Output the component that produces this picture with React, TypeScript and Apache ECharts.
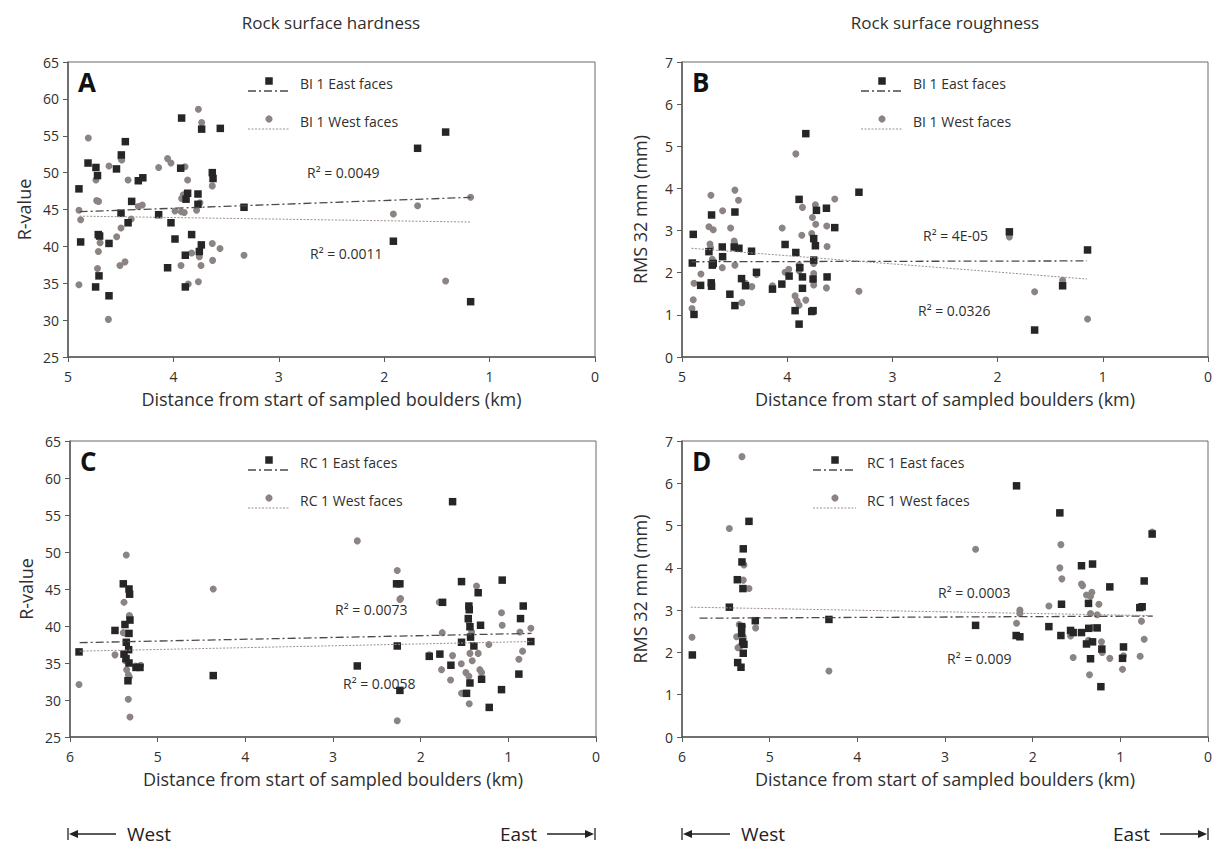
import React, { useEffect, useRef } from "react";
import * as echarts from "echarts";

const FONT = "'Open Sans', 'Noto Sans', sans-serif";

// ---------- text ----------
const columnTitles = ["Rock surface hardness", "Rock surface roughness"];
const xAxisName = "Distance from start of sampled boulders (km)";
const yAxisNames = ["R-value", "RMS 32 mm (mm)", "R-value", "RMS 32 mm (mm)"];
const panelLetters = ["A", "B", "C", "D"];
const legendLabels = [
  ["BI 1 East faces", "BI 1 West faces"],
  ["BI 1 East faces", "BI 1 West faces"],
  ["RC 1 East faces", "RC 1 West faces"],
  ["RC 1 East faces", "RC 1 West faces"],
];
const r2Labels = [
  ["R² = 0.0049", "R² = 0.0011"],
  ["R² = 4E-05", "R² = 0.0326"],
  ["R² = 0.0073", "R² = 0.0058"],
  ["R² = 0.0003", "R² = 0.009"],
];

// ---------- axis ranges ----------
const xMaxKm = [5, 5, 6, 6];
const yMin = [25, 0, 25, 0];
const yMax = [65, 7, 65, 7];
const yStep = [5, 1, 5, 1];

// ---------- data: [km, value] ----------
const aEast = [
  [4.896, 47.8], [4.81, 51.3], [4.735, 50.7], [4.72, 49.6], [4.456, 54.2], [4.494, 52.4],
  [4.54, 50.5], [4.333, 48.9], [4.29, 49.3], [4.396, 46.1], [4.497, 44.5], [4.43, 43.2],
  [4.88, 40.6], [4.713, 41.6], [4.70, 41.4], [4.611, 40.4], [4.706, 36.0], [4.738, 34.5],
  [4.611, 33.3], [3.922, 57.4], [3.732, 55.9], [3.555, 56.0], [3.931, 50.6], [3.631, 50.0],
  [3.624, 49.2], [3.865, 47.2], [3.88, 46.4], [3.767, 47.1], [3.767, 45.7], [3.33, 45.3],
  [4.14, 44.3], [4.023, 43.2], [3.827, 41.6], [3.985, 41.0], [3.735, 40.2], [3.754, 39.3],
  [3.887, 38.8], [4.055, 37.1], [3.887, 34.5], [1.417, 55.5], [1.683, 53.3], [1.913, 40.7],
  [1.18, 32.5],
];
const aWest = [
  [4.807, 54.7], [4.896, 44.9], [4.88, 43.6], [4.896, 34.8], [4.735, 49.0], [4.728, 46.2],
  [4.71, 46.1], [4.696, 40.5], [4.712, 39.3], [4.72, 37.0], [4.617, 30.1], [4.611, 50.9],
  [4.497, 51.9], [4.49, 51.7], [4.43, 49.0], [4.333, 45.4], [4.295, 45.6], [4.40, 43.7],
  [4.497, 42.5], [4.538, 41.3], [4.507, 37.4], [4.459, 37.9], [4.14, 50.7], [4.055, 51.9],
  [4.023, 51.3], [3.763, 58.6], [3.732, 56.8], [3.89, 50.8], [3.865, 49.0], [3.922, 46.5],
  [3.906, 47.0], [3.985, 44.8], [3.925, 44.7], [3.897, 44.6], [3.78, 44.9], [3.748, 45.9],
  [3.631, 48.2], [3.631, 40.4], [3.558, 39.7], [3.827, 39.1], [3.754, 38.6], [3.628, 38.1],
  [3.928, 37.4], [3.738, 37.4], [3.859, 34.9], [3.763, 35.2], [3.33, 38.8], [1.18, 46.65],
  [1.683, 45.5], [1.913, 44.4], [1.417, 35.3],
];
const bEast = [
  [4.893, 2.91], [4.902, 2.23], [4.886, 1.01], [4.823, 1.70], [4.719, 3.37], [4.744, 2.50],
  [4.712, 2.18], [4.703, 2.22], [4.722, 1.76], [4.719, 1.68], [4.617, 2.61], [4.614, 2.38],
  [4.497, 3.44], [4.504, 2.61], [4.459, 2.58], [4.545, 1.49], [4.497, 1.22], [4.434, 1.86],
  [4.396, 1.69], [4.339, 2.51], [4.292, 2.01], [4.14, 1.61], [4.051, 1.73], [4.02, 2.67],
  [3.982, 1.92], [3.823, 5.30], [3.887, 3.74], [3.918, 2.48], [3.88, 2.12], [3.855, 1.90],
  [3.855, 1.63], [3.925, 1.10], [3.887, 0.78], [3.767, 1.08], [3.754, 1.10], [3.722, 3.48],
  [3.748, 2.81], [3.732, 2.64], [3.748, 2.30], [3.754, 1.85], [3.627, 3.53], [3.548, 3.07],
  [3.621, 1.90], [3.318, 3.91], [1.888, 2.97], [1.145, 2.54], [1.382, 1.69], [1.648, 0.64],
];
const bWest = [
  [4.905, 1.15], [4.893, 1.36], [4.886, 1.75], [4.82, 1.97], [4.744, 3.09], [4.703, 3.02],
  [4.725, 3.84], [4.734, 2.68], [4.728, 2.59], [4.712, 2.32], [4.617, 2.12], [4.614, 3.47],
  [4.497, 3.96], [4.463, 3.72], [4.538, 3.06], [4.504, 2.75], [4.5, 2.69], [4.497, 2.18],
  [4.431, 1.29], [4.396, 1.75], [4.336, 1.67], [4.292, 1.96], [4.14, 1.69], [4.048, 3.06],
  [4.02, 2.01], [3.985, 2.08], [3.918, 4.82], [3.925, 1.45], [3.906, 1.33], [3.887, 1.23],
  [3.823, 1.35], [3.855, 3.55], [3.861, 2.89], [3.887, 2.18], [3.887, 2.05], [3.732, 3.61],
  [3.729, 3.15], [3.76, 3.31], [3.767, 2.93], [3.748, 2.22], [3.748, 1.98], [3.748, 1.71],
  [3.624, 3.11], [3.621, 2.62], [3.627, 1.64], [3.548, 3.75], [3.318, 1.56], [1.888, 2.85],
  [1.382, 1.82], [1.648, 1.55], [1.145, 0.90],
];
const cEast = [
  [5.897, 36.5], [5.487, 39.4], [5.392, 45.7], [5.327, 45.0], [5.32, 44.3], [5.316, 40.8],
  [5.373, 40.2], [5.327, 39.0], [5.358, 37.8], [5.331, 36.8], [5.384, 36.2], [5.327, 35.0],
  [5.361, 35.6], [5.247, 34.4], [5.202, 34.4], [5.339, 32.6], [4.366, 33.3], [2.723, 34.6],
  [2.275, 45.7], [2.237, 45.7], [2.267, 37.3], [2.237, 31.3], [1.902, 35.9], [1.781, 36.2],
  [1.75, 43.2], [1.655, 34.7], [1.636, 56.8], [1.534, 46.0], [1.534, 37.8], [1.477, 30.9],
  [1.45, 42.7], [1.446, 42.2], [1.457, 41.0], [1.438, 39.9], [1.431, 38.5], [1.393, 37.3],
  [1.344, 44.5], [1.317, 40.1], [1.438, 32.3], [1.305, 32.8], [1.218, 29.0], [1.07, 46.2],
  [1.078, 31.4], [0.861, 41.0], [0.83, 42.7], [0.88, 33.5], [0.743, 37.9],
];
const cWest = [
  [5.897, 32.1], [5.487, 36.1], [5.358, 49.6], [5.384, 43.2], [5.323, 41.4], [5.32, 41.3],
  [5.392, 39.1], [5.361, 39.0], [5.369, 35.3], [5.354, 34.1], [5.335, 33.4], [5.323, 33.1],
  [5.335, 30.1], [5.316, 27.7], [5.251, 34.6], [5.194, 34.7], [4.366, 45.0], [2.723, 51.5],
  [2.267, 47.5], [2.229, 43.7], [2.237, 43.6], [2.267, 27.2], [1.902, 36.1], [1.788, 43.2],
  [1.754, 39.1], [1.762, 34.1], [1.659, 32.7], [1.636, 36.0], [1.537, 34.9], [1.534, 30.9],
  [1.484, 33.7], [1.45, 33.2], [1.363, 45.4], [1.45, 40.6], [1.419, 39.2], [1.438, 36.3],
  [1.412, 35.3], [1.344, 36.3], [1.325, 34.1], [1.305, 33.7], [1.446, 29.5], [1.222, 37.5],
  [1.078, 41.8], [1.07, 40.1], [0.868, 39.2], [0.838, 36.6], [0.88, 35.5], [0.743, 39.7],
];
const dEast = [
  [5.882, 1.94], [5.46, 3.07], [5.236, 5.10], [5.301, 4.45], [5.316, 4.14], [5.369, 3.72],
  [5.305, 3.51], [5.164, 2.75], [5.32, 2.61], [5.32, 2.45], [5.308, 2.25], [5.293, 2.19],
  [5.301, 1.98], [5.365, 1.76], [5.327, 1.65], [4.324, 2.78], [2.184, 5.94], [1.69, 5.30],
  [2.651, 2.64], [2.188, 2.40], [2.146, 2.37], [1.815, 2.61], [1.671, 3.14], [1.678, 2.40],
  [1.568, 2.52], [1.538, 2.47], [1.443, 2.47], [1.443, 4.05], [1.317, 4.09], [1.363, 3.16],
  [1.36, 2.57], [1.264, 2.58], [1.386, 2.20], [1.317, 2.25], [1.211, 2.08], [1.34, 1.85],
  [1.222, 1.19], [1.12, 3.55], [0.964, 2.13], [0.975, 1.86], [0.778, 3.06], [0.751, 3.08],
  [0.728, 3.69], [0.637, 4.80],
];
const dWest = [
  [5.886, 2.36], [5.316, 6.63], [5.46, 4.93], [5.293, 4.07], [5.301, 3.71], [5.236, 3.51],
  [5.16, 2.58], [5.347, 2.66], [5.308, 2.62], [5.32, 2.55], [5.377, 2.37], [5.301, 2.37],
  [5.362, 2.11], [5.339, 2.14], [4.324, 1.56], [2.651, 4.44], [2.146, 3.0], [2.146, 2.92],
  [2.184, 2.69], [1.815, 3.10], [1.678, 4.55], [1.69, 4.0], [1.667, 3.74], [1.568, 2.39],
  [1.538, 1.88], [1.443, 3.62], [1.431, 3.58], [1.386, 3.36], [1.34, 3.33], [1.325, 3.42],
  [1.245, 3.14], [1.34, 2.92], [1.264, 2.89], [1.317, 2.59], [1.363, 2.29], [1.215, 2.25],
  [1.207, 2.0], [1.12, 1.86], [1.352, 1.47], [0.964, 1.92], [0.975, 1.60], [0.774, 1.91],
  [0.759, 2.74], [0.728, 2.31], [0.637, 4.85],
];

// linear trend lines (start, end)
const aEastTrend = [[4.89, 44.7], [1.18, 46.65]];
const aWestTrend = [[4.89, 44.1], [1.18, 43.3]];
const bEastTrend = [[4.91, 2.26], [1.15, 2.28]];
const bWestTrend = [[4.91, 2.58], [1.15, 1.85]];
const cEastTrend = [[5.89, 37.75], [0.735, 39.0]];
const cWestTrend = [[5.89, 36.6], [0.735, 37.9]];
const dEastTrend = [[5.8, 2.81], [0.63, 2.86]];
const dWestTrend = [[5.9, 3.07], [0.63, 2.87]];

const eastData = [aEast, bEast, cEast, dEast];
const westData = [aWest, bWest, cWest, dWest];
const eastTrends = [aEastTrend, bEastTrend, cEastTrend, dEastTrend];
const westTrends = [aWestTrend, bWestTrend, cWestTrend, dWestTrend];

// ---------- layout (pixels) ----------
const grids = [
  { left: 68, top: 62, width: 527, height: 295 },
  { left: 682, top: 62, width: 526, height: 295 },
  { left: 70, top: 441, width: 526, height: 296 },
  { left: 682, top: 441, width: 526, height: 296 },
];
const legendX = [
  { marker: 269, l0: 248, l1: 290, text: 300 },
  { marker: 882, l0: 861, l1: 903, text: 913 },
  { marker: 269, l0: 248, l1: 290, text: 300 },
  { marker: 835, l0: 813, l1: 856, text: 867 },
];
const r2Pos = [
  [[307, 172], [310, 253]],
  [[923, 235], [918, 310]],
  [[335, 609], [343, 683]],
  [[938, 592], [947, 658]],
];

const SQ = "#262626";
const CI = "#8b8482";
const EAST_LINE = "#4a4a4a";
const WEST_LINE = "#9e8f8b";
const AXIS = "#5a5a5a";
const TXT = "#2f2f2f";

function buildOption() {
  const graphic: any[] = [];
  // column titles
  graphic.push({ type: "text", x: 331, y: 22, style: { text: columnTitles[0], font: `17px ${FONT}`, fill: TXT, align: "center", verticalAlign: "middle" } });
  graphic.push({ type: "text", x: 945, y: 22, style: { text: columnTitles[1], font: `17px ${FONT}`, fill: TXT, align: "center", verticalAlign: "middle" } });

  grids.forEach((g, i) => {
    const top = g.top;
    const lx = legendX[i];
    // panel letter
    graphic.push({ type: "text", x: g.left + 10, y: top + 20, style: { text: panelLetters[i], font: `bold 26px ${FONT}`, fill: "#111", verticalAlign: "middle" } });
    // legend: east
    graphic.push({ type: "rect", shape: { x: lx.marker - 3.75, y: top + 19 - 3.75, width: 7.5, height: 7.5 }, style: { fill: SQ } });
    graphic.push({ type: "line", shape: { x1: lx.l0, y1: top + 29, x2: lx.l1, y2: top + 29 }, style: { stroke: EAST_LINE, lineWidth: 1.3, lineDash: [8, 3, 2, 3] } });
    graphic.push({ type: "text", x: lx.text, y: top + 21, style: { text: legendLabels[i][0], font: `14px ${FONT}`, fill: TXT, verticalAlign: "middle" } });
    // legend: west
    graphic.push({ type: "circle", shape: { cx: lx.marker, cy: top + 57, r: 3.6 }, style: { fill: CI } });
    graphic.push({ type: "line", shape: { x1: lx.l0, y1: top + 67, x2: lx.l1, y2: top + 67 }, style: { stroke: WEST_LINE, lineWidth: 1, lineDash: [2, 1.5] } });
    graphic.push({ type: "text", x: lx.text, y: top + 59, style: { text: legendLabels[i][1], font: `14px ${FONT}`, fill: TXT, verticalAlign: "middle" } });
    // R² labels
    r2Pos[i].forEach((p, k) => {
      graphic.push({ type: "text", x: p[0], y: p[1], style: { text: r2Labels[i][k], font: `14px ${FONT}`, fill: TXT, verticalAlign: "middle" } });
    });
  });

  // West / East arrows under the bottom panels
  const arrowY = 834;
  [[68, 595], [682, 1208]].forEach(([x0, x1]) => {
    graphic.push({ type: "line", shape: { x1: x0, y1: arrowY - 6, x2: x0, y2: arrowY + 6 }, style: { stroke: "#222", lineWidth: 1.3 } });
    graphic.push({ type: "polygon", shape: { points: [[x0 + 1, arrowY], [x0 + 10, arrowY - 4], [x0 + 10, arrowY + 4]] }, style: { fill: "#222" } });
    graphic.push({ type: "line", shape: { x1: x0 + 9, y1: arrowY, x2: x0 + 48, y2: arrowY }, style: { stroke: "#222", lineWidth: 1.5 } });
    graphic.push({ type: "text", x: x0 + 59, y: arrowY, style: { text: "West", font: `19px ${FONT}`, fill: "#222", verticalAlign: "middle" } });
    graphic.push({ type: "line", shape: { x1: x1, y1: arrowY - 6, x2: x1, y2: arrowY + 6 }, style: { stroke: "#222", lineWidth: 1.3 } });
    graphic.push({ type: "polygon", shape: { points: [[x1 - 1, arrowY], [x1 - 10, arrowY - 4], [x1 - 10, arrowY + 4]] }, style: { fill: "#222" } });
    graphic.push({ type: "line", shape: { x1: x1 - 48, y1: arrowY, x2: x1 - 9, y2: arrowY }, style: { stroke: "#222", lineWidth: 1.5 } });
    graphic.push({ type: "text", x: x1 - 58, y: arrowY, style: { text: "East", font: `19px ${FONT}`, fill: "#222", align: "right", verticalAlign: "middle" } });
  });

  const xAxis = grids.map((_, i) => ({
    type: "value",
    gridIndex: i,
    min: 0,
    max: xMaxKm[i],
    interval: 1,
    inverse: true,
    name: xAxisName,
    nameLocation: "middle",
    nameGap: 33,
    nameTextStyle: { fontFamily: FONT, fontSize: 18, color: TXT, verticalAlign: "top" },
    axisLine: { show: true, onZero: false, lineStyle: { color: AXIS, width: 1.5 } },
    axisTick: { show: true, inside: false, length: 5, lineStyle: { color: AXIS } },
    axisLabel: { fontFamily: FONT, fontSize: 14, color: TXT, margin: 12 },
    splitLine: { show: false },
  }));
  const yAxis = grids.map((_, i) => ({
    type: "value",
    gridIndex: i,
    min: yMin[i],
    max: yMax[i],
    interval: yStep[i],
    name: yAxisNames[i],
    nameLocation: "middle",
    nameGap: i % 2 === 0 ? 35 : 33,
    nameRotate: 90,
    nameTextStyle: { fontFamily: FONT, fontSize: 18, color: TXT },
    axisLine: { show: true, onZero: false, lineStyle: { color: AXIS, width: 1.5 } },
    axisTick: { show: true, inside: false, length: 5, lineStyle: { color: AXIS } },
    axisLabel: { fontFamily: FONT, fontSize: 14, color: TXT, margin: 9 },
    splitLine: { show: false },
  }));

  const series: any[] = [];
  grids.forEach((_, i) => {
    series.push({
      type: "scatter", xAxisIndex: i, yAxisIndex: i, data: eastData[i],
      symbol: "rect", symbolSize: 7.5, itemStyle: { color: SQ, opacity: 1 }, z: 3,
    });
    series.push({
      type: "scatter", xAxisIndex: i, yAxisIndex: i, data: westData[i],
      symbol: "circle", symbolSize: 7, itemStyle: { color: CI, opacity: 1 }, z: 2,
    });
    series.push({
      type: "line", xAxisIndex: i, yAxisIndex: i, data: eastTrends[i], showSymbol: false, symbol: "none",
      lineStyle: { color: EAST_LINE, width: 1.3, type: [8, 3, 2, 3] }, z: 4,
    });
    series.push({
      type: "line", xAxisIndex: i, yAxisIndex: i, data: westTrends[i], showSymbol: false, symbol: "none",
      lineStyle: { color: WEST_LINE, width: 1, type: [2, 1.5] }, z: 4,
    });
  });

  return {
    animation: false,
    backgroundColor: "#ffffff",
    textStyle: { fontFamily: FONT },
    grid: grids.map((g) => ({
      ...g,
      containLabel: false,
      outerBoundsMode: "none",
      show: true,
      borderColor: "#6a6a6a",
      borderWidth: 1,
      backgroundColor: "transparent",
    })),
    xAxis,
    yAxis,
    series,
    graphic,
  };
}

export default function App() {
  const ref = useRef<HTMLDivElement>(null);
  useEffect(() => {
    if (!ref.current) return;
    const chart = echarts.init(ref.current, null, { renderer: "svg" });
    chart.setOption(buildOption() as any);
    return () => chart.dispose();
  }, []);
  return (
    <div
      ref={ref}
      style={{ position: "absolute", left: 0, top: 0, width: 1220, height: 852, background: "#fff" }}
    />
  );
}
